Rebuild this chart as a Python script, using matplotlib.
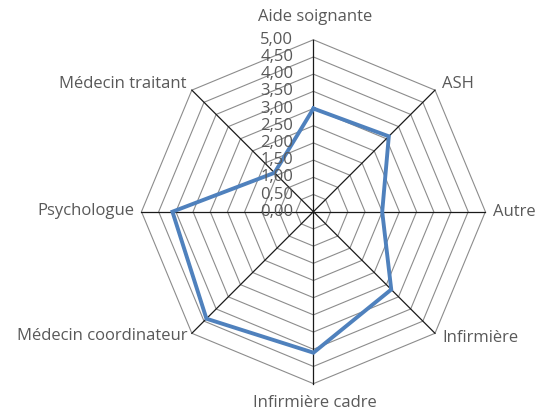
import numpy as np
import matplotlib
matplotlib.use('Agg')
import matplotlib.pyplot as plt

# categories clockwise from the top, and scores
categories = ['Aide soignante', 'ASH', 'Autre', 'Infirmière', 'Infirmière cadre',
              'Médecin coordinateur', 'Psychologue', 'Médecin traitant']
values = [3.0, 3.1, 2.0, 3.2, 4.1, 4.4, 4.1, 1.6]
levels = np.arange(0, 5.01, 0.5)

plt.rcParams['font.family'] = ['Open Sans', 'DejaVu Sans']
text_col = '#595959'

fig = plt.figure(figsize=(5.39, 4.13), dpi=100)
ax = fig.add_axes([0.2625, 0.0709, 0.638, 0.833], projection='polar')
ax.set_theta_zero_location('N')
ax.set_theta_direction(-1)
ax.set_ylim(0, 5)
ax.grid(False)
ax.set_xticks([])
ax.set_yticks([])
ax.spines['polar'].set_visible(False)
ax.patch.set_visible(False)

angles = np.linspace(0, 2 * np.pi, len(categories), endpoint=False)
closed = np.append(angles, angles[0])

# octagon rings
for r in levels[1:]:
    ax.plot(closed, [r] * len(closed), color='#8c8c8c', lw=0.8, clip_on=False, zorder=1)
# spokes
for a in angles:
    ax.plot([a, a], [0, 5], color='#1a1a1a', lw=0.9, clip_on=False, zorder=2)

# data
ax.plot(closed, values + values[:1], color='#4f81bd', lw=2.8, clip_on=False, zorder=3,
        solid_joinstyle='miter')

# category labels
offsets = [(2, 23, 'center'), (7, 6, 'left'), (8, 0, 'left'), (7, -5, 'left'),
           (1, -19, 'center'), (-4, -3, 'right'), (-7, 1, 'right'), (-5, 6, 'right')]
for a, name, (dx, dy, ha) in zip(angles, categories, offsets):
    ax.annotate(name, xy=(a, 5), xytext=(dx, dy), textcoords='offset pixels',
                ha=ha, va='center', fontsize=12, color=text_col, annotation_clip=False)

# radial tick labels
for r in levels:
    ax.annotate(('%.2f' % r).replace('.', ','), xy=(0, r), xytext=(-20, 0),
                textcoords='offset pixels', ha='right', va='center',
                fontsize=12, color=text_col, annotation_clip=False)

fig.savefig('out.png', dpi=100, facecolor='white')
